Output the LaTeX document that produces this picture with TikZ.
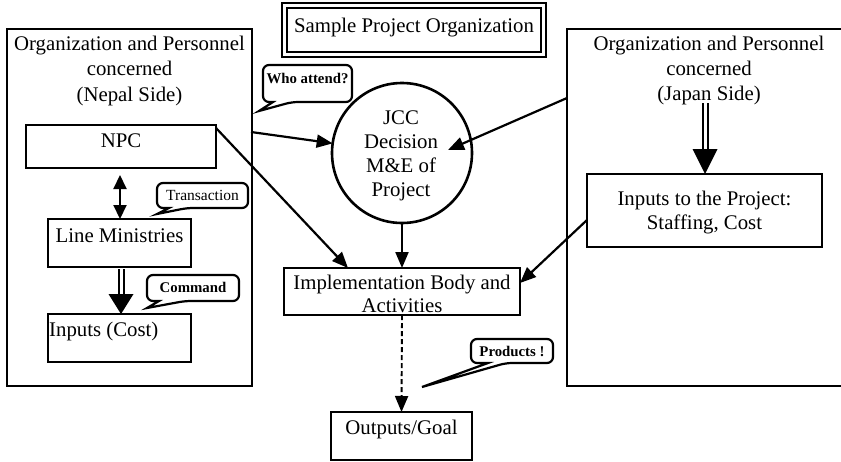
\documentclass[tikz,border=0pt]{standalone}
\usepackage{fontspec}
\setmainfont{Liberation Serif}
\usetikzlibrary{arrows.meta}

\begin{document}
\begin{tikzpicture}[x=1pt,y=-1pt,
  box/.style={draw, line width=2.6pt, inner sep=0pt, outer sep=0pt},
  txt/.style={font=\fontsize{20.8}{25}\selectfont, inner sep=0pt, anchor=base},
  note/.style={font=\bfseries\fontsize{14.8}{16}\selectfont, inner sep=0pt, anchor=base},
  callout/.style={draw, line width=2.2pt, rounded corners=6pt},
  arr/.style={line width=2.2pt, -{Triangle[length=16pt,width=13pt]}},
  dblshaft/.style={draw, double, line width=2pt, double distance=3pt},
]
\clip (0,0) rectangle (841,461);
\fill[white] (0,0) rectangle (841,461);

% ---------- title ----------
\node[box, double, line width=2pt, double distance=2.4pt,
      minimum width=259, minimum height=49] (title) at (414,30) {};
\node[txt] (titletxt) at (414,32) {Sample Project Organization};

% ---------- Nepal side ----------
\node[box, minimum width=245, minimum height=357] (nepal) at (129.5,207.5) {};
\node[txt] (nepal1) at (129.5,50) {Organization and Personnel};
\node[txt] (nepal2) at (129.5,75) {concerned};
\node[txt] (nepal3) at (129.5,101) {(Nepal Side)};

\node[box, minimum width=190, minimum height=43] (npc) at (121,146.5) {};
\node[txt] (npctxt) at (121,147) {NPC};

\node[box, minimum width=143, minimum height=48] (linemin) at (119.5,243) {};
\node[txt] (linemintxt) at (119.5,242) {Line Ministries};

\node[box, minimum width=143, minimum height=48] (cost) at (119.5,338) {};
\node[txt, anchor=base west] (costtxt) at (49,336) {Inputs (Cost)};

% ---------- Japan side (runs past the right edge) ----------
\node[box, minimum width=284, minimum height=357] (japan) at (709,207.5) {};
\node[txt] (japan1) at (709,50) {Organization and Personnel};
\node[txt] (japan2) at (709,75) {concerned};
\node[txt] (japan3) at (709,100) {(Japan Side)};

\node[box, minimum width=235, minimum height=73] (jin) at (704.5,210.5) {};
\node[txt] (jin1) at (704.5,205) {Inputs to the Project:};
\node[txt] (jin2) at (704.5,229) {Staffing, Cost};

% ---------- centre column ----------
\node[box, circle, minimum size=140] (jcc) at (402,153) {};
\node[txt] (jcc1) at (401,124) {JCC};
\node[txt] (jcc2) at (401,148) {Decision};
\node[txt] (jcc3) at (401,172) {M\&E of};
\node[txt] (jcc4) at (401,196) {Project};

\node[box, minimum width=236, minimum height=47] (impl) at (402,291.5) {};
\node[txt] (impl1) at (402,289) {Implementation Body and};
\node[txt] (impl2) at (402,312) {Activities};

\node[box, minimum width=141, minimum height=48] (out) at (401.5,436) {};
\node[txt] (outtxt) at (401.5,434) {Outputs/Goal};

% ---------- speech balloons ----------
\draw[callout] (263,65) -- (352,65) -- (352,102) -- (292,102)
  [sharp corners] -- (259,111) -- (273,102) [rounded corners=6pt] -- (263,102) -- cycle;
\node[note] (who) at (307.5,83) {Who attend?};

\draw[callout] (157,183) -- (248,183) -- (248,208) -- (187,208)
  [sharp corners] -- (157,214) -- (169,208) [rounded corners=6pt] -- (157,208) -- cycle;
\node[note, font=\fontsize{15.5}{16}\selectfont] (trans) at (202.5,200.5) {Transaction};

\draw[callout] (147,275) -- (239,275) -- (239,301) -- (185,301)
  [sharp corners] -- (147,308) -- (159,301) [rounded corners=6pt] -- (147,301) -- cycle;
\node[note] (cmd) at (193,292.5) {Command};

\draw[callout] (471,339) -- (553,339) -- (553,363) -- (506,363)
  [sharp corners] -- (422,387) -- (488,363) [rounded corners=6pt] -- (471,363) -- cycle;
\node[note] (prod) at (512,356.5) {Products !};

% ---------- connector end points ----------
\coordinate (nepalout) at (251,132);
\coordinate (japanout) at (567,98);
\coordinate (jcctip) at (448,150);
\coordinate (npcout) at (216,128);
\coordinate (impltopL) at (348,268);
\coordinate (jinout) at (587,220);
\coordinate (implR) at (520,283);

% ---------- connectors ----------
\draw[arr] (nepalout) -- (jcc);
\draw[arr] (japanout) -- (jcctip);
\draw[arr] (jcc.south) -- (impl.north);
\draw[arr] (npcout) -- (impltopL);
\draw[arr] (jinout) -- (implR);
\draw[arr, line width=1.9pt, dash pattern=on 5pt off 3pt] (impl.south) -- (out.north);

\draw[line width=2.1pt, {Triangle[length=14pt,width=13pt]}-{Triangle[length=14pt,width=13pt]}]
  ([xshift=-1pt,yshift=-7pt]npc.south) -- ([xshift=0.5pt]linemin.north);

% double-line command arrows
\coordinate (lmtail) at (121,269);
\coordinate (lmhead) at (121,294);
\draw[dblshaft] (lmtail) -- (lmhead);
\fill ([xshift=-12.5pt]lmhead) -- ([xshift=12.5pt]lmhead) -- (cost.north -| lmhead) -- cycle;

\coordinate (jptail) at (705,103);
\coordinate (jphead) at (705,149);
\draw[dblshaft] (jptail) -- (jphead);
\fill ([xshift=-12.5pt]jphead) -- ([xshift=12.5pt]jphead) -- (jin.north -| jphead) -- cycle;
\end{tikzpicture}
\end{document}
